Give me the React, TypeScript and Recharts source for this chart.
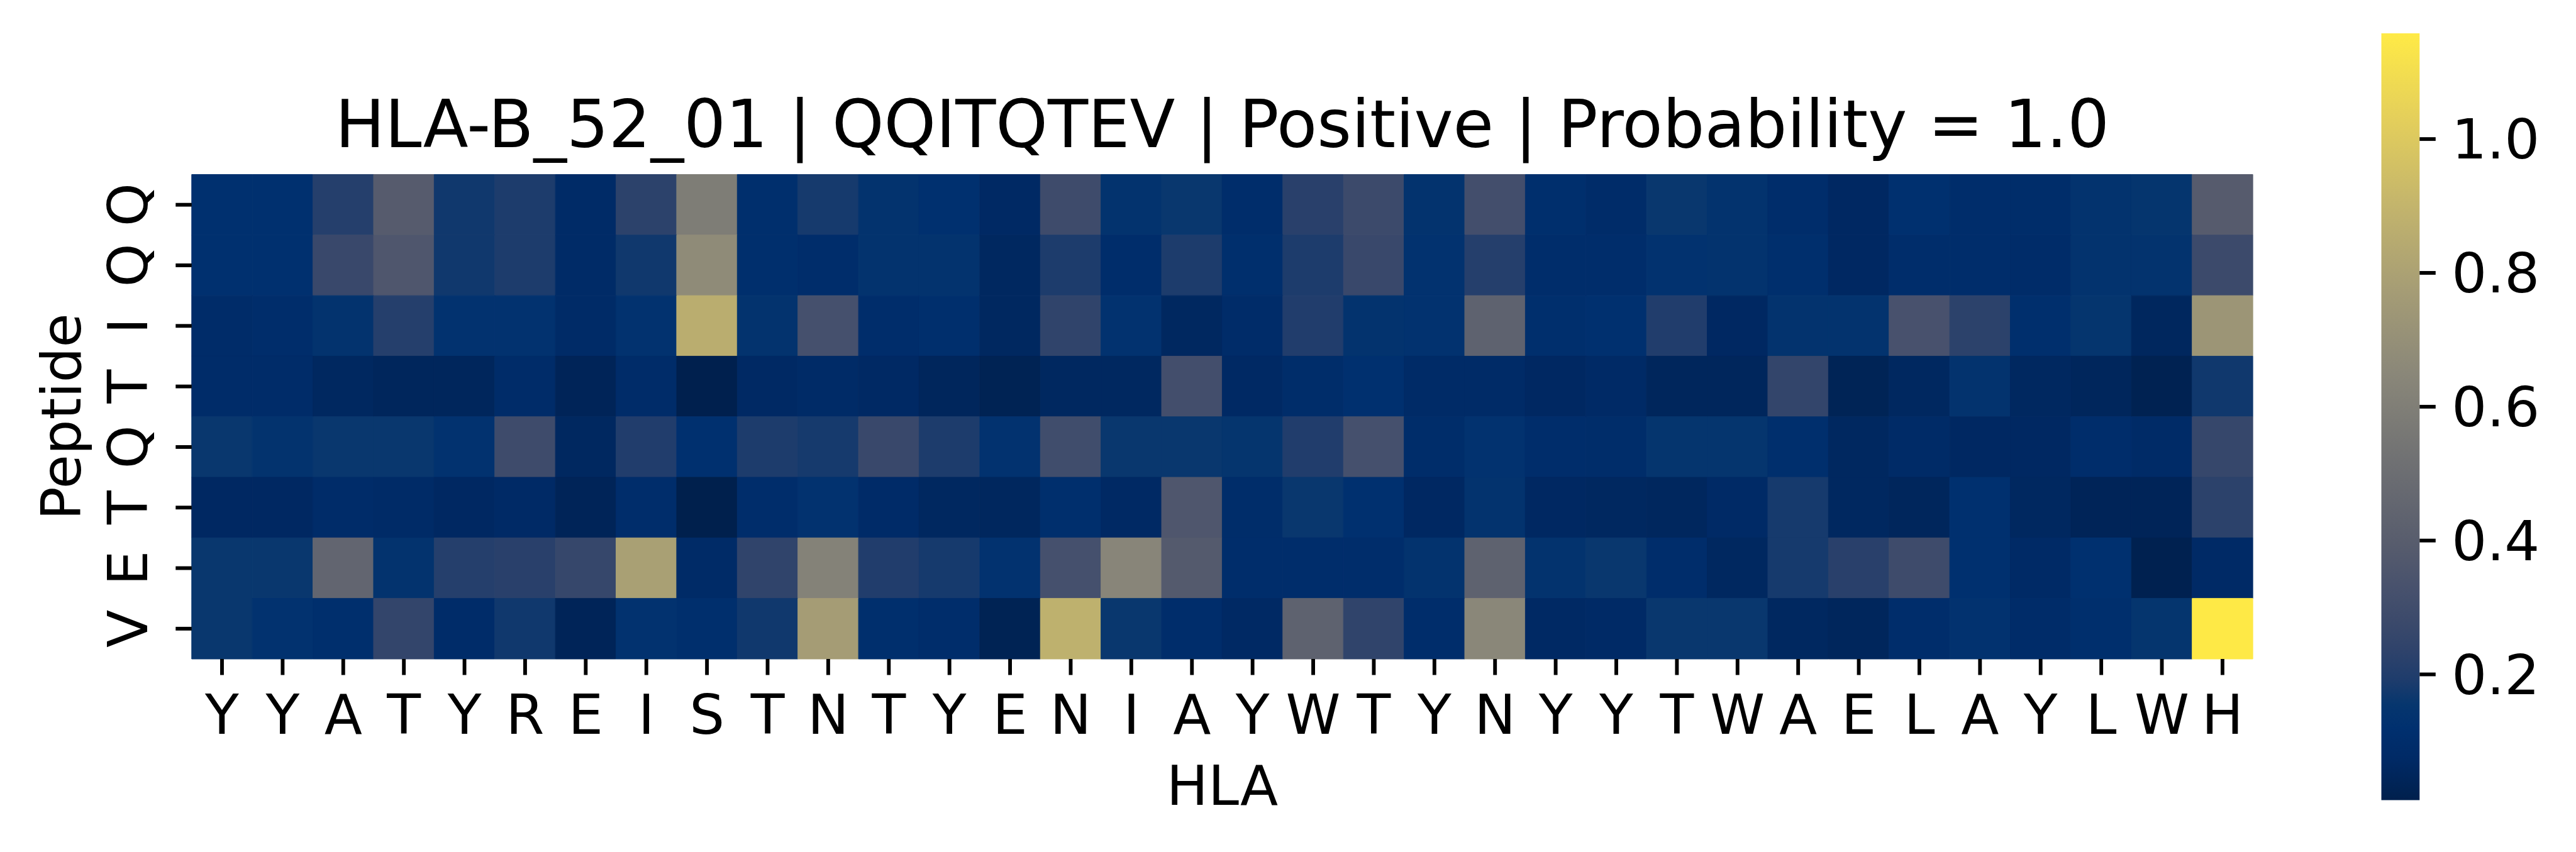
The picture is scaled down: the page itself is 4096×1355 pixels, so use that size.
import { ComposedChart, XAxis, YAxis, ReferenceArea, Scatter } from "recharts";

// column labels (HLA pseudo-sequence) and row labels (peptide)
const hlaLabels = [
  "Y", "Y", "A", "T", "Y", "R", "E", "I", "S", "T", "N", "T", "Y", "E", "N", "I", "A",
  "Y", "W", "T", "Y", "N", "Y", "Y", "T", "W", "A", "E", "L", "A", "Y", "L", "W", "H",
];
const peptideLabels = ["Q", "Q", "I", "T", "Q", "T", "E", "V"];

// attention values, one array per peptide position
const rowQ1 = [0.12, 0.12, 0.21, 0.39, 0.17, 0.19, 0.08, 0.23, 0.59, 0.11, 0.18, 0.14, 0.12, 0.07, 0.29, 0.14, 0.16, 0.1, 0.22, 0.28, 0.14, 0.31, 0.11, 0.09, 0.16, 0.14, 0.1, 0.065, 0.12, 0.1, 0.095, 0.14, 0.15, 0.39];
const rowQ2 = [0.12, 0.12, 0.27, 0.36, 0.17, 0.19, 0.08, 0.17, 0.67, 0.11, 0.1, 0.14, 0.14, 0.06, 0.19, 0.1, 0.19, 0.11, 0.19, 0.27, 0.13, 0.21, 0.1, 0.1, 0.13, 0.14, 0.11, 0.065, 0.1, 0.1, 0.09, 0.14, 0.14, 0.28];
const rowI3 = [0.09, 0.1, 0.14, 0.21, 0.13, 0.13, 0.08, 0.13, 0.86, 0.14, 0.32, 0.1, 0.11, 0.06, 0.24, 0.13, 0.06, 0.09, 0.2, 0.14, 0.13, 0.43, 0.11, 0.12, 0.2, 0.065, 0.14, 0.14, 0.33, 0.23, 0.11, 0.15, 0.055, 0.73];
const rowT4 = [0.09, 0.09, 0.06, 0.05, 0.05, 0.09, 0.04, 0.09, 0.015, 0.07, 0.08, 0.07, 0.05, 0.03, 0.06, 0.06, 0.31, 0.07, 0.095, 0.12, 0.08, 0.08, 0.065, 0.075, 0.05, 0.05, 0.25, 0.035, 0.06, 0.14, 0.06, 0.05, 0.025, 0.17];
const rowQ5 = [0.16, 0.14, 0.16, 0.16, 0.13, 0.29, 0.06, 0.2, 0.12, 0.19, 0.18, 0.27, 0.19, 0.13, 0.3, 0.16, 0.16, 0.15, 0.2, 0.32, 0.095, 0.13, 0.1, 0.095, 0.15, 0.15, 0.11, 0.06, 0.08, 0.065, 0.065, 0.1, 0.08, 0.26];
const rowT6 = [0.065, 0.065, 0.09, 0.08, 0.065, 0.075, 0.04, 0.1, 0.012, 0.1, 0.13, 0.085, 0.06, 0.055, 0.11, 0.07, 0.36, 0.095, 0.16, 0.12, 0.065, 0.14, 0.065, 0.06, 0.055, 0.075, 0.18, 0.06, 0.05, 0.12, 0.06, 0.04, 0.04, 0.23];
const rowE7 = [0.16, 0.16, 0.45, 0.14, 0.21, 0.22, 0.26, 0.79, 0.08, 0.24, 0.62, 0.2, 0.18, 0.13, 0.32, 0.64, 0.38, 0.1, 0.1, 0.1, 0.14, 0.43, 0.14, 0.16, 0.1, 0.06, 0.18, 0.22, 0.29, 0.12, 0.075, 0.12, 0.02, 0.075];
const rowV8 = [0.16, 0.13, 0.11, 0.25, 0.09, 0.17, 0.04, 0.13, 0.11, 0.17, 0.77, 0.11, 0.1, 0.03, 0.88, 0.16, 0.1, 0.07, 0.43, 0.24, 0.1, 0.65, 0.07, 0.075, 0.16, 0.16, 0.06, 0.05, 0.1, 0.13, 0.09, 0.11, 0.15, 1.155];
const heatRows = [rowQ1, rowQ2, rowI3, rowT4, rowQ5, rowT6, rowE7, rowV8];

// colorbar range and ticks
const vMin = 0.012;
const vMax = 1.158;
const colorbarTicks = [0.2, 0.4, 0.6, 0.8, 1.0];

// cividis colormap stops [t, r, g, b]
const cividis: number[][] = [
  [0, 0, 32, 77],
  [0.055, 0, 42, 102],
  [0.094, 0, 48, 111],
  [0.125, 6, 54, 110],
  [0.157, 30, 60, 108],
  [0.196, 47, 67, 107],
  [0.235, 60, 74, 107],
  [0.275, 71, 81, 109],
  [0.333, 87, 92, 109],
  [0.444, 112, 113, 115],
  [0.556, 138, 135, 121],
  [0.667, 166, 157, 117],
  [0.778, 196, 181, 108],
  [0.889, 228, 207, 91],
  [1, 255, 234, 70],
];

function cividisColor(t: number) {
  const c = Math.max(0, Math.min(1, t));
  for (let i = 1; i < cividis.length; i++) {
    const a = cividis[i - 1];
    const b = cividis[i];
    if (c <= b[0]) {
      const f = (c - a[0]) / (b[0] - a[0]);
      const ch = [1, 2, 3].map((k) => Math.round(a[k] + (b[k] - a[k]) * f));
      return `rgb(${ch[0]},${ch[1]},${ch[2]})`;
    }
  }
  return "rgb(255,234,70)";
}

const valueColor = (v: number) => cividisColor((v - vMin) / (vMax - vMin));

// one record per cell, built from the arrays above
const cells = heatRows.flatMap((row, r) =>
  row.map((v, c) => ({ col: c + 0.5, row: r + 0.5, value: v }))
);
const barData = colorbarTicks.map((t) => ({ x: 0.5, v: t }));

const FONT = "DejaVu Sans";
const TICK_FS = 88;
const colCenters = hlaLabels.map((_, i) => i + 0.5);
const rowCenters = peptideLabels.map((_, i) => i + 0.5);

function HlaTick({ x, y, payload }: any) {
  return (
    <text x={x} y={y} dy={93.5} textAnchor="middle" fontSize={TICK_FS} fontFamily={FONT} fill="#000">
      {hlaLabels[Math.floor(payload.value)]}
    </text>
  );
}

function PeptideTick({ x, y, payload }: any) {
  const bx = x - 45.8;
  return (
    <text
      x={bx}
      y={y}
      transform={`rotate(-90, ${bx}, ${y})`}
      textAnchor="middle"
      fontSize={TICK_FS}
      fontFamily={FONT}
      fill="#000"
    >
      {peptideLabels[Math.floor(payload.value)]}
    </text>
  );
}

export default function App() {
  return (
    <div style={{ position: "absolute", left: 0, top: 0, width: 4096, height: 1355, background: "#fff" }}>
      {/* heatmap */}
      <div style={{ position: "absolute", left: 0, top: 0 }}>
        <ComposedChart
          width={3700}
          height={1355}
          data={cells}
          margin={{ top: 277.5, left: 104.8, right: 117.9, bottom: 57 }}
        >
          <XAxis
            type="number"
            dataKey="col"
            domain={[0, hlaLabels.length]}
            ticks={colCenters}
            interval={0}
            height={250}
            axisLine={false}
            tickSize={25.5}
            tickMargin={0}
            tickLine={{ stroke: "#000", strokeWidth: 5.9 }}
            tick={<HlaTick />}
          />
          <YAxis
            type="number"
            dataKey="row"
            domain={[0, peptideLabels.length]}
            reversed
            ticks={rowCenters}
            interval={0}
            width={200}
            axisLine={false}
            tickSize={25.5}
            tickMargin={0}
            tickLine={{ stroke: "#000", strokeWidth: 5.9 }}
            tick={<PeptideTick />}
          />
          {cells.map((cell) => (
            <ReferenceArea
              key={`${cell.row}-${cell.col}`}
              x1={cell.col - 0.5}
              x2={cell.col + 0.5}
              y1={cell.row - 0.5}
              y2={cell.row + 0.5}
              fill={valueColor(cell.value)}
              fillOpacity={1}
              stroke={valueColor(cell.value)}
              strokeWidth={1}
            />
          ))}
          <Scatter dataKey="row" isAnimationActive={false} shape={() => <g />} />
        </ComposedChart>
      </div>

      {/* colorbar */}
      <div style={{ position: "absolute", left: 3700, top: 0 }}>
        <ComposedChart
          width={396}
          height={1355}
          data={barData}
          margin={{ top: 53, bottom: 82.4, left: 86.5, right: 48.7 }}
        >
          <defs>
            <linearGradient id="cividisBar" x1="0" y1="1" x2="0" y2="0">
              {cividis.map((s) => (
                <stop key={s[0]} offset={`${s[0] * 100}%`} stopColor={`rgb(${s[1]},${s[2]},${s[3]})`} />
              ))}
            </linearGradient>
          </defs>
          <XAxis type="number" dataKey="x" domain={[0, 1]} hide />
          <YAxis
            orientation="right"
            type="number"
            dataKey="v"
            domain={[vMin, vMax]}
            ticks={colorbarTicks}
            interval={0}
            width={200}
            axisLine={false}
            tickSize={25.5}
            tickMargin={25.5}
            tickLine={{ stroke: "#000", strokeWidth: 5.9 }}
            tickFormatter={(v: number) => v.toFixed(1)}
            tick={{ fontSize: TICK_FS, fontFamily: FONT, fill: "#000" }}
          />
          <ReferenceArea y1={vMin} y2={vMax} fill="url(#cividisBar)" fillOpacity={1} stroke="none" />
          <Scatter dataKey="v" isAnimationActive={false} shape={() => <g />} />
        </ComposedChart>
      </div>

      {/* title and axis labels */}
      <svg
        width={4096}
        height={1355}
        style={{ position: "absolute", left: 0, top: 0, pointerEvents: "none" }}
      >
        <text x={1943.5} y={233.5} textAnchor="middle" fontSize={105} fontFamily={FONT} fill="#000">
          HLA-B_52_01 | QQITQTEV | Positive | Probability = 1.0
        </text>
        <text x={1943.5} y={1280} textAnchor="middle" fontSize={TICK_FS} fontFamily={FONT} fill="#000">
          HLA
        </text>
        <text
          x={127.7}
          y={662.8}
          transform="rotate(-90, 127.7, 662.8)"
          textAnchor="middle"
          fontSize={TICK_FS}
          fontFamily={FONT}
          fill="#000"
        >
          Peptide
        </text>
      </svg>
    </div>
  );
}
